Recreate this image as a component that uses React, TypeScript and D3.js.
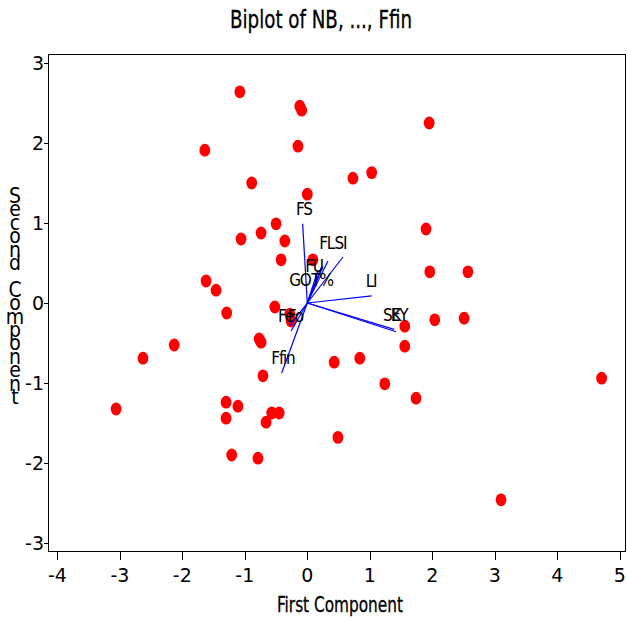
import React from "react";
import * as d3 from "d3";

// Scores (first, second component)
const scoreX = [-1.08, -0.12, -0.09, 1.95, -1.64, -0.15, -0.89, 1.03, 0.73, 0.0, -0.5, -0.74, 1.9, -1.06, -0.36, 0.09, -0.42, 1.96, 2.57, -1.62, -1.46, -0.52, -1.29, -0.28, -0.26, 2.04, 2.51, 1.56, -0.77, -0.74, -2.13, 1.56, -2.63, 0.43, 0.84, -0.71, 4.71, 1.24, 1.74, -1.3, -1.11, -3.06, -0.57, -0.45, -1.3, -0.66, 0.49, -1.21, -0.79, 3.1];
const scoreY = [2.64, 2.46, 2.41, 2.25, 1.91, 1.96, 1.5, 1.63, 1.56, 1.36, 0.99, 0.875, 0.925, 0.8, 0.775, 0.54, 0.54, 0.39, 0.39, 0.275, 0.16, -0.05, -0.125, -0.14, -0.225, -0.21, -0.19, -0.29, -0.45, -0.49, -0.525, -0.54, -0.69, -0.74, -0.69, -0.91, -0.94, -1.01, -1.19, -1.24, -1.29, -1.325, -1.375, -1.375, -1.44, -1.49, -1.68, -1.9, -1.94, -2.46];

// Loading vectors
const varNames = ["FS", "FL", "SI", "FU", "GO", "T%", "LI", "SK", "EY", "Fe", "Fo", "Ffin"];
const loadX = [-0.075, 0.33, 0.57, 0.25, 0.17, 0.22, 1.03, 1.42, 1.39, -0.26, -0.29, -0.41];
const loadY = [0.99, 0.525, 0.575, 0.46, 0.41, 0.44, 0.09, -0.36, -0.33, -0.35, -0.29, -0.875];
const labelX = [-0.054, 0.31, 0.53, 0.106, -0.118, 0.235, 1.02, 1.35, 1.47, -0.35, -0.19, -0.39];
const labelY = [1.1, 0.675, 0.675, 0.39, 0.21, 0.21, 0.2, -0.225, -0.225, -0.24, -0.24, -0.76];

const xTicks = [-4, -3, -2, -1, 0, 1, 2, 3, 4, 5];
const yTicks = [-3, -2, -1, 0, 1, 2, 3];

const title = "Biplot of NB, ..., Ffin";
const xTitle = "First Component";
const yTitle = "Second Component";

const W = 627;
const H = 620;
const left = 48;
const right = 626;
const top = 54;
const bottom = 551;

const condensed = "'DejaVu Sans Condensed', 'DejaVu Sans', sans-serif";
const tickFont = "'DejaVu Sans', Verdana, sans-serif";

export default function App() {
  const x = d3.scaleLinear().domain([-4.15, 5.1]).range([left, right]);
  const y = d3.scaleLinear().domain([-3.1, 3.1125]).range([bottom, top]);
  const ox = x(0);
  const oy = y(0);
  const yChars = yTitle.split("").reverse();
  return (
    <svg
      width={W}
      height={H}
      style={{ position: "absolute", left: 0, top: 0, display: "block", background: "#fff" }}
    >
      <rect x={0} y={0} width={W} height={H} fill="#fff" />
      <text
        x={321}
        y={28}
        textAnchor="middle"
        fontFamily={condensed}
        fontStretch="condensed"
        fontSize={25}
        textLength={182}
        lengthAdjust="spacingAndGlyphs"
        fill="#000"
        stroke="#000"
        strokeWidth={0.3}
      >
        {title}
      </text>

      {/* frame */}
      <rect x={left + 0.5} y={top + 0.5} width={right - left - 1} height={bottom - top} fill="none" stroke="#000" strokeWidth={1} />

      {/* y ticks */}
      {yTicks.map((t) => (
        <g key={"y" + t}>
          <line x1={left - 4} x2={left} y1={Math.round(y(t)) + 0.5} y2={Math.round(y(t)) + 0.5} stroke="#000" />
          <text x={44} y={y(t) + 7} textAnchor="end" fontFamily={tickFont} fontSize={19} fill="#000">
            {t}
          </text>
        </g>
      ))}
      {/* x ticks */}
      {xTicks.map((t) => (
        <g key={"x" + t}>
          <line x1={Math.round(x(t)) + 0.5} x2={Math.round(x(t)) + 0.5} y1={bottom + 1} y2={bottom + 9} stroke="#000" />
          <text x={x(t)} y={582} textAnchor="middle" fontFamily={tickFont} fontSize={19} fill="#000">
            {t}
          </text>
        </g>
      ))}

      <text
        x={340}
        y={612}
        textAnchor="middle"
        fontFamily={condensed}
        fontStretch="condensed"
        fontSize={21}
        textLength={126}
        lengthAdjust="spacingAndGlyphs"
        fill="#000"
        stroke="#000"
        strokeWidth={0.3}
      >
        {xTitle}
      </text>

      <text fontFamily={condensed} fontStretch="condensed" fontSize={21} textAnchor="middle" fill="#000">
        {yChars.map((c, i) => (
          <tspan key={"yc" + i} x={15} y={404 - i * 13.4}>
            {c === " " ? "\u00a0" : c}
          </tspan>
        ))}
      </text>

      {/* points */}
      {scoreX.map((v, i) => (
        <ellipse key={"p" + i} cx={x(v)} cy={y(scoreY[i])} rx={5.4} ry={6.4} fill="#ff0000" />
      ))}

      {/* vectors */}
      {varNames.map((n, i) => (
        <line key={"v" + i} x1={ox} y1={oy} x2={x(loadX[i])} y2={y(loadY[i])} stroke="#0000ff" strokeWidth={1.2} />
      ))}
      {varNames.map((n, i) => (
        <text
          key={"l" + i}
          x={x(labelX[i])}
          y={y(labelY[i])}
          textAnchor="middle"
          fontFamily={condensed}
          fontStretch="condensed"
          fontSize={17}
          letterSpacing={-1.2}
          fill="#000"
        >
          {n}
        </text>
      ))}
    </svg>
  );
}
